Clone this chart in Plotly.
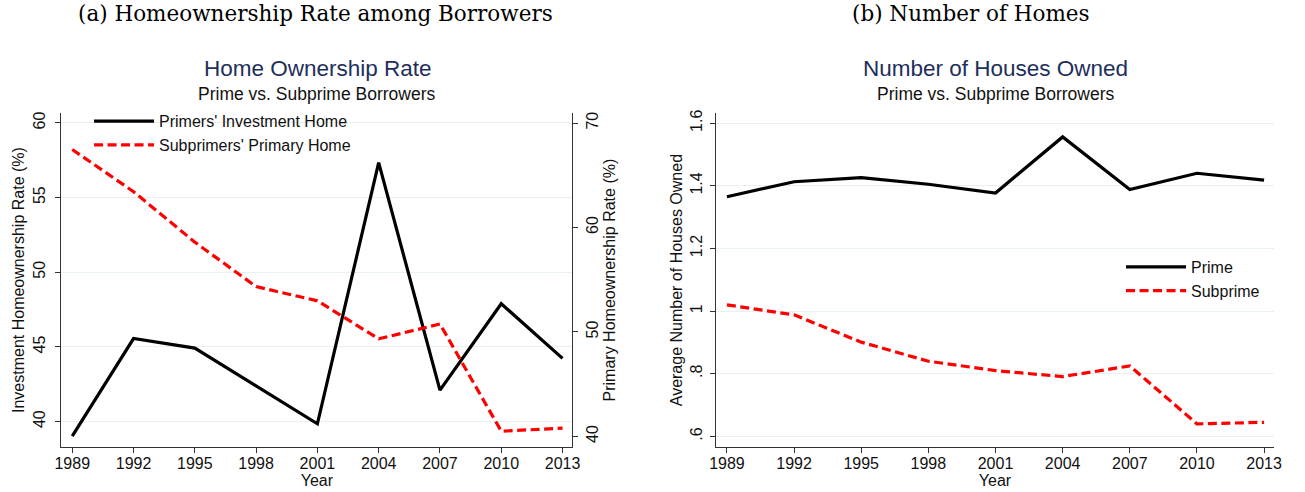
import plotly.graph_objects as go

# ---------------- data ----------------
years = [1989, 1992, 1995, 1998, 2001, 2004, 2007, 2010, 2013]
prime_invest_rate = [39.02, 45.56, 44.92, 42.40, 39.85, 57.34, 42.10, 47.89, 44.23]
subprime_primary_rate = [67.47, 63.43, 58.60, 54.34, 52.98, 49.34, 50.76, 40.50, 40.79]
prime_houses = [1.365, 1.413, 1.426, 1.405, 1.377, 1.556, 1.388, 1.440, 1.418]
subprime_houses = [1.020, 0.988, 0.901, 0.840, 0.810, 0.791, 0.825, 0.640, 0.645]

left_ticks = [40, 45, 50, 55, 60]
right_ticks = [40, 50, 60, 70]
houses_ticks = [0.6, 0.8, 1.0, 1.2, 1.4, 1.6]
houses_ticktext = [".6", ".8", "1", "1.2", "1.4", "1.6"]

# ---------------- layout helpers ----------------
W, H = 1305, 492


def px(x):
    return x / W


def py(y):
    return 1 - y / H


SANS = "Liberation Sans, Arial, sans-serif"
SERIF = "DejaVu Serif, serif"
AX = "#333333"
GRID = "#e8f0f2"
NAVY = "#1e2f5c"
FS = 16
TICKF = dict(family=SANS, size=FS, color="#111111")
TITF = dict(family=SANS, size=FS, color="#111111")
DASH = "9px,4.5px"

fig = go.Figure()

fig.add_trace(go.Scatter(
    x=years, y=prime_invest_rate, mode="lines", name="Primers' Investment Home",
    line=dict(color="black", width=3.2), xaxis="x", yaxis="y",
    legend="legend", legendgroup="a1"))
fig.add_trace(go.Scatter(
    x=years, y=subprime_primary_rate, mode="lines", name="Subprimers' Primary Home",
    line=dict(color="#ff0000", width=3.2, dash=DASH), xaxis="x", yaxis="y2",
    legend="legend", legendgroup="a2"))
fig.add_trace(go.Scatter(
    x=years, y=prime_houses, mode="lines", name="Prime",
    line=dict(color="black", width=3.2), xaxis="x2", yaxis="y3",
    legend="legend2", legendgroup="b1"))
fig.add_trace(go.Scatter(
    x=years, y=subprime_houses, mode="lines", name="Subprime",
    line=dict(color="#ff0000", width=3.2, dash=DASH), xaxis="x2", yaxis="y3",
    legend="legend2", legendgroup="b2"))

common_axis = dict(showline=True, linecolor=AX, linewidth=1, ticks="outside",
                   ticklen=5, tickcolor=AX, tickfont=TICKF, zeroline=False)

fig.update_layout(
    width=W, height=H, margin=dict(l=0, r=0, t=0, b=0),
    paper_bgcolor="white", plot_bgcolor="white",
    xaxis=dict(domain=[px(55), px(572)], range=[1988.468, 2013.484],
               tickvals=years, showgrid=False, anchor="y", ticklabelstandoff=-3,
               title=dict(text="Year", font=TITF, standoff=0),
               **common_axis),
    yaxis=dict(domain=[py(446.7), py(110)], range=[38.29, 60.66], tickvals=left_ticks,
               tickangle=-90, showgrid=True, gridcolor=GRID, gridwidth=1, anchor="x",
               ticklabelstandoff=4,
               title=dict(text="Investment Homeownership Rate (%)", font=TITF, standoff=2),
               **common_axis),
    yaxis2=dict(overlaying="y", side="right", anchor="x", range=[38.98, 70.95],
                tickvals=right_ticks, tickangle=-90, showgrid=False,
                title=dict(text="Primary Homeownership Rate (%)", font=TITF, standoff=1),
                **common_axis),
    xaxis2=dict(domain=[px(717), px(1282)], range=[1988.501, 2013.455],
                tickvals=years, showgrid=False, anchor="y3", ticklabelstandoff=-3,
                title=dict(text="Year", font=TITF, standoff=0),
                **common_axis),
    yaxis3=dict(domain=[py(446.7), py(110)], range=[0.566, 1.632], anchor="x2",
                tickvals=houses_ticks, ticktext=houses_ticktext, tickangle=-90,
                showgrid=True, gridcolor=GRID, gridwidth=1, ticklabelstandoff=1,
                title=dict(text="Average Number of Houses Owned", font=TITF, standoff=1),
                **common_axis),
    legend=dict(x=px(83), y=py(101), xanchor="left", yanchor="top",
                bgcolor="rgba(255,255,255,0)", itemwidth=60, tracegroupgap=3,
                font=dict(family=SANS, size=FS, color="#111"), traceorder="normal"),
    legend2=dict(x=px(1127), y=py(248), xanchor="left", yanchor="top",
                 bgcolor="rgba(255,255,255,0)", itemwidth=60, tracegroupgap=3,
                 font=dict(family=SANS, size=FS, color="#111"), traceorder="normal"),
    showlegend=True,
)

annotations = [
    dict(text="(a) Homeownership Rate among Borrowers", x=px(312), y=py(10),
         font=dict(family=SERIF, size=21.5, color="#000")),
    dict(text="(b) Number of Homes", x=px(975), y=py(10),
         font=dict(family=SERIF, size=21.5, color="#000")),
    dict(text="Home Ownership Rate", x=px(315), y=py(65.5),
         font=dict(family=SANS, size=22.5, color=NAVY)),
    dict(text="Prime vs. Subprime Borrowers", x=px(314), y=py(91),
         font=dict(family=SANS, size=17.5, color="#111")),
    dict(text="Number of Houses Owned", x=px(1000), y=py(65.5),
         font=dict(family=SANS, size=22.5, color=NAVY)),
    dict(text="Prime vs. Subprime Borrowers", x=px(1000), y=py(91),
         font=dict(family=SANS, size=17.5, color="#111")),
]
for a in annotations:
    a.update(xref="paper", yref="paper", xanchor="center", yanchor="middle",
             showarrow=False)
fig.update_layout(annotations=annotations)

fig.write_html("out.html",
               config={"displayModeBar": False},
               post_script="document.body.style.margin='0';"
                           "document.body.style.overflow='hidden';")
